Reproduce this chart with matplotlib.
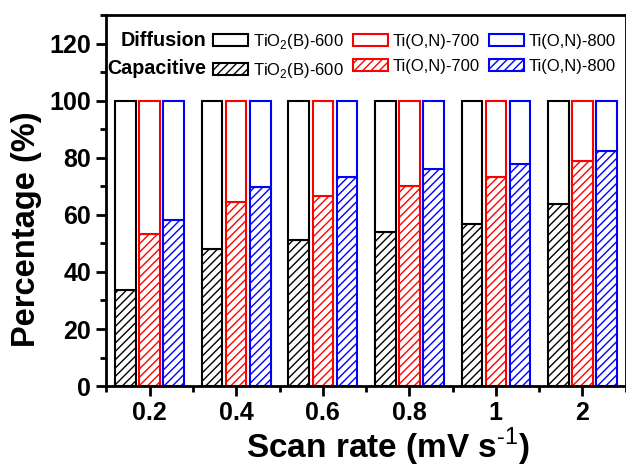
import matplotlib.pyplot as plt
from matplotlib.patches import Patch
from matplotlib.ticker import MultipleLocator

plt.rcParams['font.family'] = ['Liberation Sans', 'DejaVu Sans']
plt.rcParams['mathtext.fontset'] = 'custom'
plt.rcParams['mathtext.rm'] = 'Liberation Sans'
plt.rcParams['mathtext.bf'] = 'Liberation Sans:bold'
plt.rcParams['hatch.linewidth'] = 1.0

# data
scan_rates = ['0.2', '0.4', '0.6', '0.8', '1', '2']
samples = ['TiO$_2$(B)-600', 'Ti(O,N)-700', 'Ti(O,N)-800']
colors = ['black', '#ff0000', '#0000ff']
cap_tio2_600 = [33.5, 48.0, 51.2, 53.9, 56.9, 63.9]
cap_tion_700 = [53.4, 64.6, 66.7, 70.2, 73.2, 79.0]
cap_tion_800 = [58.3, 69.8, 73.3, 76.0, 77.9, 82.5]
capacitive = [cap_tio2_600, cap_tion_700, cap_tion_800]

fig = plt.figure(figsize=(6.26, 4.68), dpi=100)
ax = fig.add_axes([0.170, 0.175, 0.8295, 0.793])

x = list(range(1, len(scan_rates) + 1))
width = 0.237
step = 0.278
for i, (cap, col) in enumerate(zip(capacitive, colors)):
    pos = [xi + (i - 1) * step for xi in x]
    diff = [100 - c for c in cap]
    ax.bar(pos, cap, width, facecolor='white', edgecolor=col, hatch='////', linewidth=1.5)
    ax.bar(pos, diff, width, bottom=cap, facecolor='white', edgecolor=col, linewidth=1.5)

ax.set_xlim(0.5, 6.5)
ax.set_ylim(0, 130)
ax.set_xticks(x)
ax.set_xticklabels(scan_rates)
ax.set_xticks([xi - 0.5 for xi in x] + [6.5], minor=True)
ax.set_yticks(range(0, 121, 20))
ax.yaxis.set_minor_locator(MultipleLocator(10))
ax.tick_params(which='major', length=7, width=2, labelsize=18, pad=4)
ax.tick_params(which='minor', length=4, width=2)
for lab in ax.get_xticklabels() + ax.get_yticklabels():
    lab.set_fontweight('bold')
for sp in ax.spines.values():
    sp.set_linewidth(2)

ax.set_xlabel('Scan rate (mV s$^{\\text{-1}}$)', fontsize=24, fontweight='bold')
ax.xaxis.label.set_verticalalignment('baseline')
ax.xaxis.set_label_coords(0.542, -0.194)
ax.set_ylabel('Percentage (%)', fontsize=23.5, fontweight='bold')
ax.yaxis.set_label_coords(-0.124, 0.422)

# legend: diffusion row (open) and capacitive row (hatched)
handles = []
labels = []
for s, col in zip(samples, colors):
    handles.append(Patch(facecolor='white', edgecolor=col, linewidth=1.5))
    labels.append(s)
    handles.append(Patch(facecolor='white', edgecolor=col, hatch='////', linewidth=1.5))
    labels.append(s)
ax.legend(handles, labels, ncol=3, loc='upper left', bbox_to_anchor=(0.205, 0.955),
          frameon=False, fontsize=12, handlelength=2.1, handleheight=0.75,
          handletextpad=0.3, columnspacing=0.55, labelspacing=0.6,
          borderpad=0, borderaxespad=0)
ax.text(0.192, 0.930, 'Diffusion', transform=ax.transAxes, ha='right', va='center',
        fontsize=14.2, fontweight='bold')
ax.text(0.192, 0.857, 'Capacitive', transform=ax.transAxes, ha='right', va='center',
        fontsize=14.2, fontweight='bold')

fig.savefig('out.png', dpi=100)
